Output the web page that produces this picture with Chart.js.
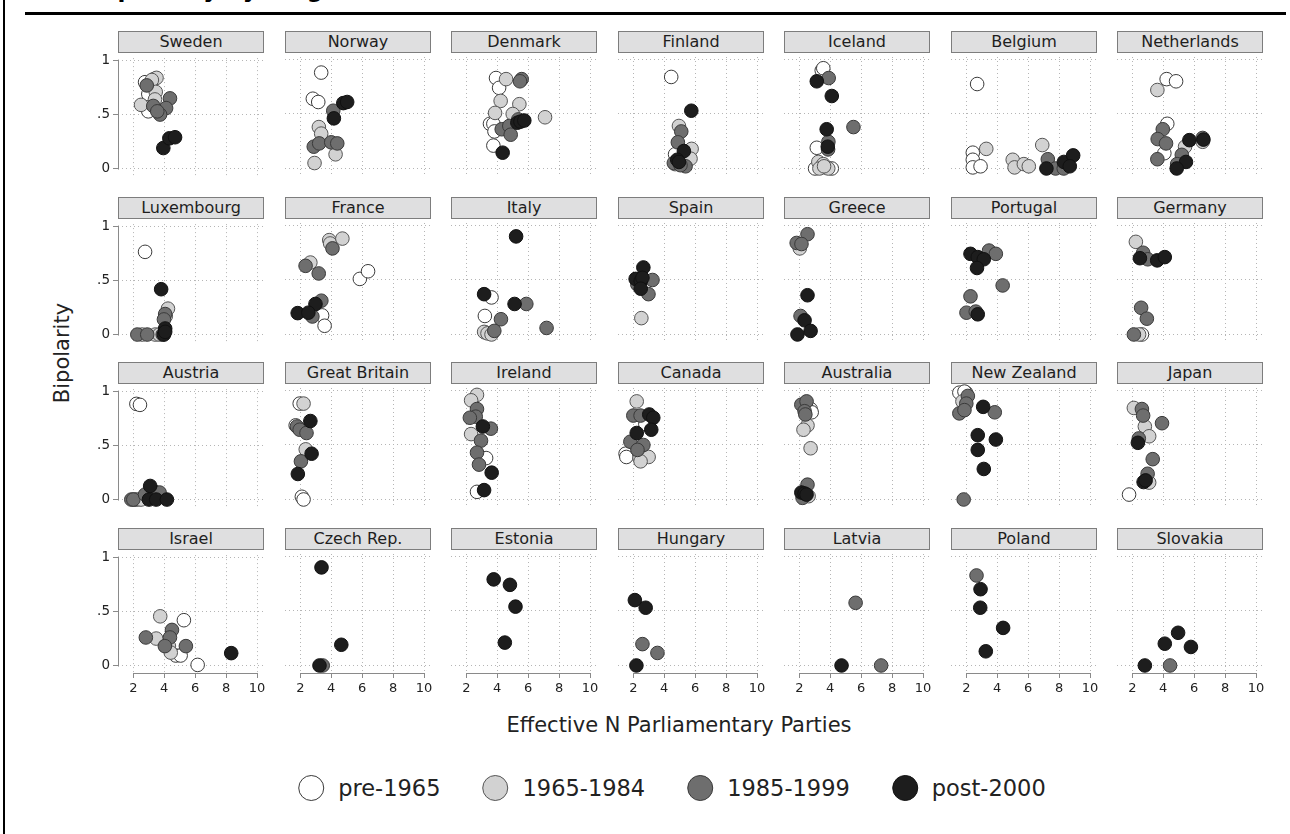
<!DOCTYPE html>
<html>
<head>
<meta charset="utf-8">
<title>Bipolarity by Fragmentation</title>
<script src="https://cdn.jsdelivr.net/npm/chart.js@4.4.1/dist/chart.umd.min.js"></script>
<style>
  html, body { margin: 0; padding: 0; background: #ffffff; }
  body { width: 1290px; height: 834px; position: relative; overflow: hidden;
         font-family: "DejaVu Sans", sans-serif; color: #222; }
  canvas { position: absolute; }
  .strip { position: absolute; box-sizing: border-box; width: 146px; height: 22px;
           background: #dfdfe0; border: 1px solid #7d7d7d; font-size: 16px;
           line-height: 20px; text-align: center; color: #1e1e1e; white-space: nowrap; }
  .title { position: absolute; left: 92px; top: -22px; font-size: 23px; line-height: 23px;
           font-weight: bold; color: #000; white-space: nowrap; }
  .rule { position: absolute; left: 25px; top: 12px; width: 1261px; height: 3px; background: #000; }
  .frame { position: absolute; left: 3px; top: 0; width: 2px; height: 834px; background: #000; }
  .ytitle { position: absolute; left: 62px; top: 353px; transform: translate(-50%, -50%) rotate(-90deg);
            font-size: 21px; white-space: nowrap; color: #222; }
  .xtitle { position: absolute; left: 679px; top: 725px; transform: translate(-50%, -50%);
            font-size: 21px; white-space: nowrap; color: #222; }
  .legend { position: absolute; left: 672px; top: 788px; transform: translate(-50%, -50%);
            display: flex; align-items: center; white-space: nowrap; }
  .legend .item { display: flex; align-items: center; margin: 0 21px; }
  .legend .dot { width: 26px; height: 26px; border-radius: 50%; box-sizing: border-box;
                 border: 1.5px solid #333; margin-right: 14px; }
  .legend .lab { font-size: 22.5px; color: #222; }
</style>
</head>
<body>
<div class="frame"></div>
<div class="title">Bipolarity by Fragmentation,</div>
<div class="rule"></div>
<div class="ytitle">Bipolarity</div>
<div class="xtitle">Effective N Parliamentary Parties</div>
<div class="legend" id="legend"></div>

<script>
// ---- data -------------------------------------------------------------
const countries = ["Sweden", "Norway", "Denmark", "Finland", "Iceland", "Belgium", "Netherlands",
  "Luxembourg", "France", "Italy", "Spain", "Greece", "Portugal", "Germany",
  "Austria", "Great Britain", "Ireland", "Canada", "Australia", "New Zealand", "Japan",
  "Israel", "Czech Rep.", "Estonia", "Hungary", "Latvia", "Poland", "Slovakia"];

const eraLabels = ["pre-1965", "1965-1984", "1985-1999", "post-2000"];
const xTicks = [2, 4, 6, 8, 10];
const yTicks = [0, 0.5, 1];
const yTickLabels = ["0", ".5", "1"];

// [country, [[effective N parties, bipolarity], ...]]
const pre1965 = [
  ["Sweden", [[2.76, .80], [2.97, .69], [2.97, .53]]],
  ["Norway", [[3.35, .88], [2.81, .64], [3.16, .61]]],
  ["Denmark", [[3.92, .83], [4.12, .74], [3.53, .41], [3.75, .41], [3.82, .34], [3.75, .21]]],
  ["Finland", [[4.45, .84], [4.70, .13]]],
  ["Iceland", [[3.45, .90], [3.55, .92], [3.13, .19], [3.02, 0], [4.10, 0], [3.70, .01]]],
  ["Belgium", [[2.70, .775], [2.42, .145], [2.42, .08], [2.42, .01], [2.92, .02]]],
  ["Netherlands", [[4.22, .82], [4.83, .80], [4.26, .41], [4.07, .14]]],
  ["Luxembourg", [[2.76, .766]]],
  ["France", [[5.85, .51], [6.38, .58], [3.41, .175], [3.57, .08]]],
  ["Italy", [[3.63, .34], [3.20, .17], [3.20, .02]]],
  ["Germany", [[2.62, 0]]],
  ["Austria", [[2.20, .886], [2.43, .877], [2.10, 0]]],
  ["Great Britain", [[1.96, .88], [1.70, .68], [2.10, .025], [2.21, 0]]],
  ["Ireland", [[3.28, .38], [2.69, .07]]],
  ["Canada", [[2.78, .69], [1.50, .42], [1.55, .39]]],
  ["Australia", [[2.73, .83], [2.80, .80]]],
  ["New Zealand", [[1.55, .98], [1.98, .98], [1.88, .99]]],
  ["Japan", [[1.79, .045]]],
  ["Israel", [[5.27, .42], [4.75, .093], [5.06, .093], [6.16, .006]]]
];

const era1965to1984 = [
  ["Sweden", [[3.34, .83], [3.50, .84], [3.20, .82], [3.45, .71], [3.40, .64], [2.50, .59]]],
  ["Norway", [[3.20, .38], [3.35, .32], [4.28, .13], [2.92, .05]]],
  ["Denmark", [[4.57, .82], [4.22, .62], [5.43, .59], [3.86, .51], [5.00, .50], [7.09, .47]]],
  ["Finland", [[4.95, .39], [5.77, .18], [5.70, .09], [4.70, .04]]],
  ["Iceland", [[3.23, .06], [3.55, .04], [3.87, 0], [3.30, 0], [3.60, .02]]],
  ["Belgium", [[3.29, .18], [5.00, .08], [5.12, .01], [5.72, .04], [6.04, .02], [6.91, .215]]],
  ["Netherlands", [[3.62, .72], [5.41, .20], [6.55, .245]]],
  ["Luxembourg", [[4.24, .24], [2.57, 0], [3.42, 0], [3.68, 0], [4.10, .17]]],
  ["France", [[3.87, .866], [3.93, .835], [4.72, .88], [2.65, .66]]],
  ["Italy", [[3.15, .024], [3.37, .01], [3.63, 0]]],
  ["Spain", [[2.52, .15]]],
  ["Greece", [[2.03, .79]]],
  ["Germany", [[2.23, .85], [2.44, 0]]],
  ["Austria", [[2.25, 0], [2.50, 0], [3.60, .06]]],
  ["Great Britain", [[2.21, .88], [1.85, .66], [2.35, .46]]],
  ["Ireland", [[2.69, .96], [2.31, .91], [2.31, .60]]],
  ["Canada", [[2.22, .90], [2.40, .38], [2.99, .39], [2.47, .35]]],
  ["Australia", [[2.53, .68], [2.27, .64], [2.73, .47], [2.60, .03]]],
  ["New Zealand", [[1.75, .90]]],
  ["Japan", [[2.10, .84], [2.81, .67], [3.09, .58], [3.09, .155]]],
  ["Israel", [[3.74, .456], [3.48, .25], [4.30, .18], [4.42, .12]]]
];

const era1985to1999 = [
  ["Sweden", [[2.87, .77], [3.29, .58], [4.37, .65], [4.12, .56], [3.73, .50], [3.55, .53]]],
  ["Norway", [[4.13, .53], [2.87, .20], [3.22, .23], [4.00, .24], [4.39, .23]]],
  ["Denmark", [[5.58, .82], [5.47, .80], [5.36, .45], [4.29, .36], [4.78, .39], [4.87, .31]]],
  ["Finland", [[5.10, .34], [4.88, .24], [4.62, .05], [5.38, .02], [5.05, .03]]],
  ["Iceland", [[3.90, .83], [5.50, .38], [3.88, .245], [3.86, .175]]],
  ["Belgium", [[7.27, .085], [7.77, 0], [8.30, 0]]],
  ["Netherlands", [[3.97, .36], [3.64, .27], [4.18, .23], [3.62, .085], [5.20, .125], [4.90, .04], [6.55, .28]]],
  ["Luxembourg", [[4.06, .19], [3.98, .14], [2.26, 0], [2.90, 0], [3.90, 0]]],
  ["France", [[4.08, .79], [2.34, .63], [3.19, .56], [3.36, .31], [2.78, .165]]],
  ["Italy", [[4.24, .14], [5.88, .28], [7.19, .06], [3.81, .033]]],
  ["Spain", [[3.24, .50], [2.26, .46], [2.98, .37]]],
  ["Greece", [[2.53, .92], [1.83, .84], [2.14, .83], [2.08, .17]]],
  ["Portugal", [[3.47, .77], [3.91, .74], [4.35, .45], [2.27, .35], [2.01, .20], [2.61, .21]]],
  ["Germany", [[2.70, .75], [3.00, .69], [2.57, .245], [2.94, .145], [2.10, 0]]],
  ["Austria", [[1.87, 0], [2.00, 0], [2.76, .046], [3.40, .07], [3.70, .065]]],
  ["Great Britain", [[1.78, .67], [1.96, .64], [2.40, .61], [2.04, .35]]],
  ["Ireland", [[2.69, .83], [2.61, .76], [2.23, .75], [3.59, .65], [2.95, .54], [2.69, .43], [2.82, .32]]],
  ["Canada", [[2.00, .77], [2.47, .77], [1.81, .53], [2.65, .50], [2.27, .455]]],
  ["Australia", [[2.13, .87], [2.47, .90], [2.34, .81], [2.39, .78], [2.53, .136], [2.21, .015]]],
  ["New Zealand", [[2.10, .95], [2.00, .88], [1.55, .79], [1.88, .82], [3.84, .80], [1.83, 0]]],
  ["Japan", [[2.62, .83], [2.70, .77], [3.92, .70], [2.42, .56], [3.32, .37], [2.99, .236]]],
  ["Israel", [[4.50, .33], [2.81, .26], [4.37, .26], [4.04, .18], [5.40, .18]]],
  ["Czech Rep.", [[3.45, 0]]],
  ["Hungary", [[2.59, .196], [3.56, .115]]],
  ["Latvia", [[5.64, .575], [7.29, 0]]],
  ["Poland", [[2.66, .826]]],
  ["Slovakia", [[4.44, 0]]]
];

const post2000 = [
  ["Sweden", [[3.94, .19], [4.33, .28], [4.70, .29]]],
  ["Norway", [[4.17, .46], [4.78, .60], [5.03, .61]]],
  ["Denmark", [[5.30, .42], [5.50, .43], [5.75, .44], [4.35, .145]]],
  ["Finland", [[5.75, .53], [5.27, .16], [4.84, .08], [4.95, .06]]],
  ["Iceland", [[3.13, .80], [4.10, .665], [3.77, .36], [3.84, .20]]],
  ["Belgium", [[7.18, 0], [8.31, .06], [8.91, .12], [8.69, .02]]],
  ["Netherlands", [[5.69, .26], [6.60, .265], [5.47, .06], [4.87, 0]]],
  ["Luxembourg", [[3.80, .42], [4.06, .056], [3.98, 0], [4.06, .025]]],
  ["France", [[2.98, .28], [1.83, .196], [2.52, .20]]],
  ["Italy", [[5.22, .90], [3.15, .37], [5.12, .28]]],
  ["Spain", [[2.65, .615], [2.15, .51], [2.48, .49], [2.59, .52], [2.48, .42]]],
  ["Greece", [[2.53, .36], [2.34, .13], [2.73, .033], [1.88, 0]]],
  ["Portugal", [[2.27, .74], [2.74, .71], [3.13, .69], [2.69, .61], [2.74, .185]]],
  ["Germany", [[2.49, .70], [3.61, .68], [4.10, .71]]],
  ["Austria", [[3.09, .126], [3.01, 0], [3.48, 0], [4.17, 0]]],
  ["Great Britain", [[2.65, .72], [2.73, .42], [1.84, .234]]],
  ["Ireland", [[3.07, .67], [3.64, .246], [3.15, .086]]],
  ["Canada", [[3.03, .78], [3.29, .75], [3.16, .64], [2.22, .61]]],
  ["Australia", [[2.13, .064], [2.34, .055], [2.47, .045]]],
  ["New Zealand", [[3.09, .85], [2.74, .59], [3.91, .55], [2.74, .455], [3.13, .28]]],
  ["Japan", [[2.36, .52], [2.73, .16], [2.86, .175]]],
  ["Israel", [[8.33, .115]]],
  ["Czech Rep.", [[3.37, .90], [4.65, .19], [3.24, 0]]],
  ["Estonia", [[3.77, .79], [4.82, .74], [5.18, .54], [4.49, .21]]],
  ["Hungary", [[2.10, .60], [2.80, .53], [2.20, 0]]],
  ["Latvia", [[4.73, 0]]],
  ["Poland", [[2.92, .70], [2.90, .53], [4.38, .345], [3.26, .13]]],
  ["Slovakia", [[2.81, 0], [4.10, .20], [4.96, .30], [5.79, .17]]]
];

const eraSeries = [pre1965, era1965to1984, era1985to1999, post2000];

// ---- styling ----------------------------------------------------------
const eraFill   = ["#ffffff", "#d2d2d2", "#6e6e6e", "#1d1d1d"];
const eraStroke = ["#3a3a3a", "#555555", "#3a3a3a", "#111111"];

const NCOL = 7;
const PLOT_LEFT = 118, PLOT_TOP = 57;          // first panel's plot area
const COL_STEP = 166.5, ROW_STEP = 165.5;
const PLOT_W = 146, PLOT_H = 119;
const Y_AXIS_W = 40, X_AXIS_H = 30, PAD_TOP = 10, PAD_RIGHT = 10;
const STRIP_TOP = 31;
const X_MIN = 1.01, X_MAX = 10.45, Y_MIN = -0.069, Y_MAX = 1.023;

// solid axis lines spanning the first to last tick, as on the outer panels
const axisLines = {
  id: 'axisLines',
  beforeDatasetsDraw(chart, args, opts) {
    const { ctx, chartArea, scales } = chart;
    ctx.save();
    ctx.strokeStyle = '#8a8a8a';
    ctx.lineWidth = 1;
    if (opts.left) {
      const px = Math.round(chartArea.left) + 0.5;
      ctx.beginPath();
      ctx.moveTo(px, scales.y.getPixelForValue(yTicks[yTicks.length - 1]) - 1);
      ctx.lineTo(px, scales.y.getPixelForValue(yTicks[0]) + 1);
      ctx.stroke();
    }
    if (opts.bottom) {
      const py = Math.round(chartArea.bottom) + 0.5;
      ctx.beginPath();
      ctx.moveTo(scales.x.getPixelForValue(xTicks[0]), py);
      ctx.lineTo(scales.x.getPixelForValue(xTicks[xTicks.length - 1]), py);
      ctx.stroke();
    }
    ctx.restore();
  }
};

function pointsFor(series, country) {
  const row = series.find(e => e[0] === country);
  return row ? row[1].map(p => ({ x: p[0], y: p[1] })) : [];
}

const nRows = Math.ceil(countries.length / NCOL);

countries.forEach((country, idx) => {
  const c = idx % NCOL, r = Math.floor(idx / NCOL);
  const isLeft = c === 0, isBottom = r === nRows - 1;
  const plotLeft = Math.round(PLOT_LEFT + c * COL_STEP);
  const plotTop = Math.round(PLOT_TOP + r * ROW_STEP);

  // strip header
  const strip = document.createElement('div');
  strip.className = 'strip';
  strip.style.left = plotLeft + 'px';
  strip.style.top = Math.round(STRIP_TOP + r * ROW_STEP) + 'px';
  strip.textContent = country;
  document.body.appendChild(strip);

  // panel canvas
  const cv = document.createElement('canvas');
  const w = Y_AXIS_W + PLOT_W + PAD_RIGHT, h = PAD_TOP + PLOT_H + X_AXIS_H;
  cv.width = w; cv.height = h;
  cv.style.width = w + 'px'; cv.style.height = h + 'px';
  cv.style.left = (plotLeft - Y_AXIS_W) + 'px';
  cv.style.top = (plotTop - PAD_TOP) + 'px';
  document.body.appendChild(cv);

  const datasets = eraSeries.map((series, e) => ({
    label: eraLabels[e],
    data: pointsFor(series, country),
    order: eraSeries.length - 1 - e,
    pointRadius: 6.8,
    pointHoverRadius: 6.8,
    pointBackgroundColor: eraFill[e],
    pointBorderColor: eraStroke[e],
    pointBorderWidth: 1,
    clip: false
  }));

  const gridStyle = { color: '#b5b5b5', lineWidth: 1, tickLength: 5,
                      tickColor: '#8a8a8a', tickBorderDash: [] };

  new Chart(cv, {
    type: 'scatter',
    data: { datasets },
    options: {
      responsive: false,
      animation: false,
      devicePixelRatio: 1,
      events: [],
      layout: { autoPadding: false, padding: { top: PAD_TOP, right: PAD_RIGHT, left: 0, bottom: 0 } },
      plugins: {
        legend: { display: false },
        tooltip: { enabled: false },
        axisLines: { left: isLeft, bottom: isBottom }
      },
      scales: {
        x: {
          type: 'linear', min: X_MIN, max: X_MAX, bounds: 'data',
          afterBuildTicks: s => { s.ticks = xTicks.map(v => ({ value: v })); },
          afterFit: s => { s.height = X_AXIS_H; },
          grid: Object.assign({ drawTicks: isBottom }, gridStyle),
          border: { display: false, dash: [1, 3] },
          ticks: { display: isBottom, padding: 3, color: '#222', maxRotation: 0, autoSkip: false,
                   font: { family: 'DejaVu Sans', size: 13 },
                   callback: v => String(v) }
        },
        y: {
          type: 'linear', min: Y_MIN, max: Y_MAX, bounds: 'data',
          afterBuildTicks: s => { s.ticks = yTicks.map(v => ({ value: v })); },
          afterFit: s => { s.width = Y_AXIS_W; },
          grid: Object.assign({ drawTicks: isLeft }, gridStyle),
          border: { display: false, dash: [1, 3] },
          ticks: { display: isLeft, padding: 3, color: '#222', autoSkip: false,
                   font: { family: 'DejaVu Sans', size: 13.5 },
                   callback: (v, i) => yTickLabels[i] }
        }
      }
    },
    plugins: [axisLines]
  });
});

// legend
const legend = document.getElementById('legend');
eraLabels.forEach((lab, e) => {
  const item = document.createElement('div');
  item.className = 'item';
  const dot = document.createElement('div');
  dot.className = 'dot';
  dot.style.background = eraFill[e];
  dot.style.borderColor = eraStroke[e];
  const txt = document.createElement('span');
  txt.className = 'lab';
  txt.textContent = lab;
  item.appendChild(dot); item.appendChild(txt);
  legend.appendChild(item);
});
</script>
</body>
</html>
